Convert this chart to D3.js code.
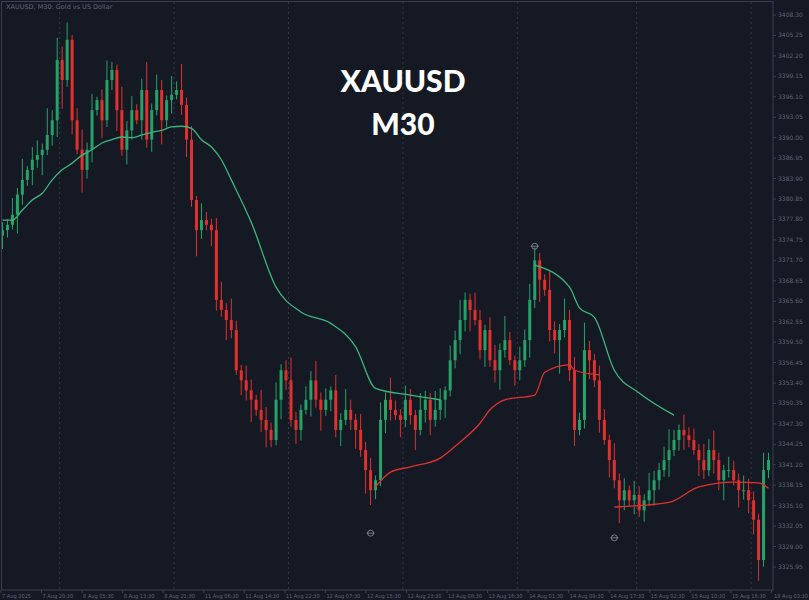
<!DOCTYPE html>
<html><head><meta charset="utf-8">
<script src="https://cdn.jsdelivr.net/npm/d3@7"></script>
<style>body{margin:0;background:#151924;}svg{display:block;}</style>
</head><body>
<script>
// M30 closes
var closes = [3376.2,3377.0,3378.5,3381.5,3383.7,3385.2,3386.7,3387.4,3388.2,3390.4,3392.6,3401.6,3398.6,3404.6,3392.6,3388.2,3385.2,3388.2,3394.1,3395.6,
 3392.6,3398.6,3400.1,3394.1,3388.2,3391.1,3394.1,3392.6,3397.1,3389.7,3394.1,3397.1,3392.6,3395.6,3396.4,3397.1,3394.9,3389.7,3380.7,3376.2,
 3377.7,3377.0,3376.2,3365.8,3364.3,3362.8,3361.3,3355.3,3353.8,3352.3,3350.9,3349.4,3347.9,3346.4,3344.9,3350.9,3355.3,3353.8,3347.9,3346.4,
 3349.4,3350.9,3353.8,3350.9,3349.4,3350.9,3352.3,3346.4,3347.9,3349.4,3347.9,3346.4,3343.4,3340.4,3337.4,3338.9,3347.9,3350.9,3349.4,3348.6,
 3347.9,3350.9,3348.6,3346.4,3349.4,3350.9,3347.9,3349.4,3350.9,3352.3,3356.8,3359.8,3362.8,3365.8,3364.3,3362.8,3358.3,3361.3,3356.8,3355.3,
 3358.3,3359.8,3356.8,3355.3,3356.8,3359.8,3365.8,3371.7,3368.8,3367.3,3361.3,3359.8,3361.3,3362.8,3355.3,3346.4,3347.9,3358.3,3356.8,3353.8,
 3347.9,3344.9,3341.9,3338.9,3335.9,3337.4,3335.9,3336.7,3334.4,3335.9,3337.4,3338.9,3340.4,3341.9,3343.4,3344.9,3346.4,3345.6,3344.9,3343.4,
 3341.9,3340.4,3343.4,3341.9,3338.9,3340.4,3340.4,3338.9,3337.4,3337.4,3335.9,3333.0,3327.0,3340.4,3341.9];
var wickUp = [1.2,0.8,2.5,1.0,3.1,0.6,1.9,2.2,0.9,4.0,1.5,3.3,2.0,2.6,0.7,1.8,3.0,1.1,2.4,0.5,
 1.6,2.9,1.2,0.8,3.5,1.4,2.1,0.9,1.7,4.2,1.0,2.3,1.5,0.7,2.8,1.3,3.9,1.1,2.0,0.6,
 2.5,1.2,0.9,1.8,2.7,1.0,3.2,1.4,0.8,2.2,1.6,0.7,3.0,1.9,1.1,2.6,0.9,1.5,3.4,1.2,
 0.8,2.0,1.4,2.9,1.1,1.7,0.6,2.3,1.0,3.1,1.5,0.9,2.4,1.2,1.8,0.7,2.6,1.1,3.3,1.4,
 0.9,2.1,1.6,0.8,2.5,1.3,1.0,2.8,1.7,0.6,2.2,1.4,3.0,1.1,0.9,2.6,1.5,0.8,1.9,2.3,
 1.0,3.6,1.2,0.7,2.0,1.6,2.4,1.9,1.1,0.8,2.7,1.3,0.9,3.2,1.5,2.0,1.1,4.1,1.4,0.9,
 2.2,1.6,0.8,2.5,1.0,1.8,0.7,2.1,1.3,0.9,2.6,1.4,1.1,2.0,3.1,1.5,0.8,2.3,1.2,1.7,
 0.9,2.4,1.6,2.9,1.1,0.8,2.0,1.4,1.0,2.2,1.7,1.3,0.9,2.6,1.1];
var wickDn = [2.0,1.1,0.7,2.8,1.5,0.9,2.3,1.2,3.0,0.8,1.6,2.5,4.3,1.0,2.1,0.7,3.4,1.3,1.9,0.8,
 2.7,1.0,1.5,3.1,0.9,2.2,1.4,0.6,2.9,1.2,1.8,0.8,3.6,1.1,2.0,0.7,1.5,2.6,1.0,3.9,
 1.3,0.8,2.4,1.6,1.0,3.0,1.2,0.7,2.2,1.5,3.3,0.9,1.8,2.6,1.1,0.8,2.9,1.4,1.0,2.1,
 1.6,0.7,2.5,1.2,3.1,0.9,1.7,1.1,2.4,0.8,1.5,2.8,1.0,3.5,2.2,1.3,0.9,2.0,1.6,0.7,
 2.6,1.1,1.4,3.0,0.8,1.9,2.3,1.0,1.5,2.7,0.9,1.2,2.1,1.7,3.2,0.8,1.4,2.5,1.0,1.8,
 2.9,1.1,0.7,2.3,1.5,1.0,2.6,1.2,3.3,0.9,1.7,2.0,5.0,1.1,1.6,2.4,0.8,1.3,2.8,1.0,
 1.9,0.7,2.6,1.2,3.4,1.5,0.9,2.1,1.0,1.7,0.8,2.3,1.4,1.0,2.5,0.9,1.6,2.2,1.1,0.7,
 2.4,1.3,0.9,2.0,1.5,3.0,1.1,0.8,2.6,1.4,1.9,2.2,3.1,1.0,1.2];

var greenIdx1 = [0,2,4,6,8,10,12,14,16,18,20,22,24,26,28,30,32,34,36,38,40,42,44,46,50,55,60,66,71,75,82,88];
var greenVal1 = [3377.7,3377.7,3379.2,3380.7,3381.7,3383.7,3385.2,3386.2,3387.4,3388.2,3389.2,3389.7,3390.1,3390.0,3390.4,3390.8,
 3391.1,3391.6,3391.7,3391.4,3389.7,3388.6,3386.7,3383.7,3377.4,3367.7,3364.0,3362.3,3358.8,3352.6,3351.6,3350.9];
var greenIdx2 = [107,114,116,119,123,128,135];
var greenVal2 = [3371.0,3367.7,3364.6,3363.2,3355.3,3351.9,3348.6];
var redIdx1 = [75,78,82,88,92,96,98,101,107,109,114,115,120];
var redVal1 = [3337.9,3340.1,3340.9,3342.2,3344.6,3347.4,3349.4,3350.9,3351.6,3355.0,3356.1,3355.3,3354.6];
var redIdx2 = [123,134,140,147,152,154];
var redVal2 = [3334.9,3335.6,3337.9,3338.6,3338.5,3337.7];

var markIdx = [107,74,123];
var markVal = [3373.8,3331.0,3330.3];

var priceTicks = [3408.30,3405.25,3402.20,3399.15,3396.10,3393.05,3390.00,3386.95,3383.90,3380.85,3377.80,3374.75,3371.70,3368.65,
 3365.60,3362.55,3359.50,3356.45,3353.40,3350.35,3347.30,3344.25,3341.20,3338.15,3335.10,3332.05,3329.00,3325.95];
var timeLabels = ["7 Aug 2025","7 Aug 20:30","8 Aug 05:30","8 Aug 13:30","8 Aug 21:30","11 Aug 06:30","11 Aug 14:30","11 Aug 22:30",
 "12 Aug 07:30","12 Aug 15:30","12 Aug 23:30","13 Aug 08:30","13 Aug 16:30","14 Aug 01:30","14 Aug 09:30","14 Aug 17:30",
 "15 Aug 02:30","15 Aug 10:30","15 Aug 18:30","18 Aug 03:30"];
var dayBreaks = [12,35,58,81,104,128,151];

var W = 809, H = 600, plotR = 773, plotB = 590;
var UP = "#26a269", DN = "#e0312f";

var svg = d3.select("body").append("svg").attr("width", W).attr("height", H);
svg.append("rect").attr("width", W).attr("height", H).attr("fill", "#151924");

var x = d3.scaleLinear().domain([0, closes.length]).range([0, plotR - 2]);
var y = d3.scaleLinear().domain([3408.30, 3325.95]).range([15, 567]);
var step = x(1) - x(0);

// grid
svg.selectAll("line.day").data(dayBreaks).enter().append("line")
	.attr("x1", function(d){ return x(d); }).attr("x2", function(d){ return x(d); })
	.attr("y1", 2).attr("y2", plotB)
	.attr("stroke", "#3a4052").attr("stroke-dasharray", "2,3").attr("stroke-width", 0.8);

// candles
var bars = closes.map(function(c, i) {
	var o = i === 0 ? c - 0.8 : closes[i-1];
	return { i: i, o: o, c: c, h: Math.max(o, c) + wickUp[i], l: Math.min(o, c) - wickDn[i] };
});
var g = svg.append("g");
g.selectAll("line.wick").data(bars).enter().append("line")
	.attr("x1", function(d){ return x(d.i) + step/2; }).attr("x2", function(d){ return x(d.i) + step/2; })
	.attr("y1", function(d){ return y(d.h); }).attr("y2", function(d){ return y(d.l); })
	.attr("stroke", function(d){ return d.c >= d.o ? UP : DN; }).attr("stroke-width", 1);
g.selectAll("rect.body").data(bars).enter().append("rect")
	.attr("x", function(d){ return x(d.i) + step/2 - 1.5; }).attr("width", 3)
	.attr("y", function(d){ return y(Math.max(d.o, d.c)); })
	.attr("height", function(d){ return Math.max(1, Math.abs(y(d.o) - y(d.c))); })
	.attr("fill", function(d){ return d.c >= d.o ? UP : DN; });

// indicator lines
var line = d3.line().x(function(d){ return x(d[0]) + step/2; }).y(function(d){ return y(d[1]); }).curve(d3.curveMonotoneX);
function drawLine(idx, vals, col) {
	svg.append("path").datum(d3.zip(idx, vals)).attr("d", line)
		.attr("fill", "none").attr("stroke", col).attr("stroke-width", 1.3);
}
drawLine(greenIdx1, greenVal1, "#3fb47c");
drawLine(greenIdx2, greenVal2, "#3fb47c");
drawLine(redIdx1, redVal1, "#e0312f");
drawLine(redIdx2, redVal2, "#e0312f");

// high/low markers
markIdx.forEach(function(m, k) {
	var cx = x(m) + step/2, cy = y(markVal[k]);
	svg.append("circle").attr("cx", cx).attr("cy", cy).attr("r", 3).attr("fill", "none").attr("stroke", "#8a90a0").attr("stroke-width", 0.8);
	svg.append("line").attr("x1", cx - 4).attr("x2", cx + 4).attr("y1", cy).attr("y2", cy).attr("stroke", "#8a90a0").attr("stroke-width", 0.8);
});

// frame
svg.append("rect").attr("x", 1.5).attr("y", 1.5).attr("width", plotR - 1.5).attr("height", plotB - 1.5)
	.attr("fill", "none").attr("stroke", "#3a4052");

// price axis
var pa = svg.append("g").attr("font-family", "DejaVu Sans").attr("font-size", 6).attr("fill", "#5f6574");
priceTicks.forEach(function(p) {
	pa.append("line").attr("x1", plotR).attr("x2", plotR + 3).attr("y1", y(p)).attr("y2", y(p)).attr("stroke", "#3a4052");
	pa.append("text").attr("x", plotR + 5).attr("y", y(p) + 2).text(p.toFixed(2));
});

// time axis
var ta = svg.append("g").attr("font-family", "'DejaVu Sans Condensed', 'Liberation Sans Narrow', sans-serif")
	.attr("font-size", 5.6).attr("fill", "#5f6574");
timeLabels.forEach(function(t, k) {
	var tx = k * 40.55;
	var last = k === timeLabels.length - 1;
	ta.append("line").attr("x1", tx + 1).attr("x2", tx + 1).attr("y1", plotB).attr("y2", plotB + 3).attr("stroke", "#3a4052");
	ta.append("text").attr("x", last ? W - 1 : tx + 2).attr("y", plotB + 8)
		.attr("text-anchor", last ? "end" : "start").text(t);
});

svg.append("text").attr("x", 6).attr("y", 9).attr("font-family", "DejaVu Sans").attr("font-size", 6.5)
	.attr("fill", "#5f6574").text("XAUUSD, M30:  Gold vs US Dollar");

// title
var title = svg.append("g").attr("font-family", "Lato, 'Open Sans', sans-serif").attr("font-weight", 900)
	.attr("font-size", 30).attr("fill", "#ffffff").attr("text-anchor", "middle");
title.append("text").attr("x", 403).attr("y", 92).text("XAUUSD");
title.append("text").attr("x", 403).attr("y", 135).text("M30");
</script>
</body></html>
